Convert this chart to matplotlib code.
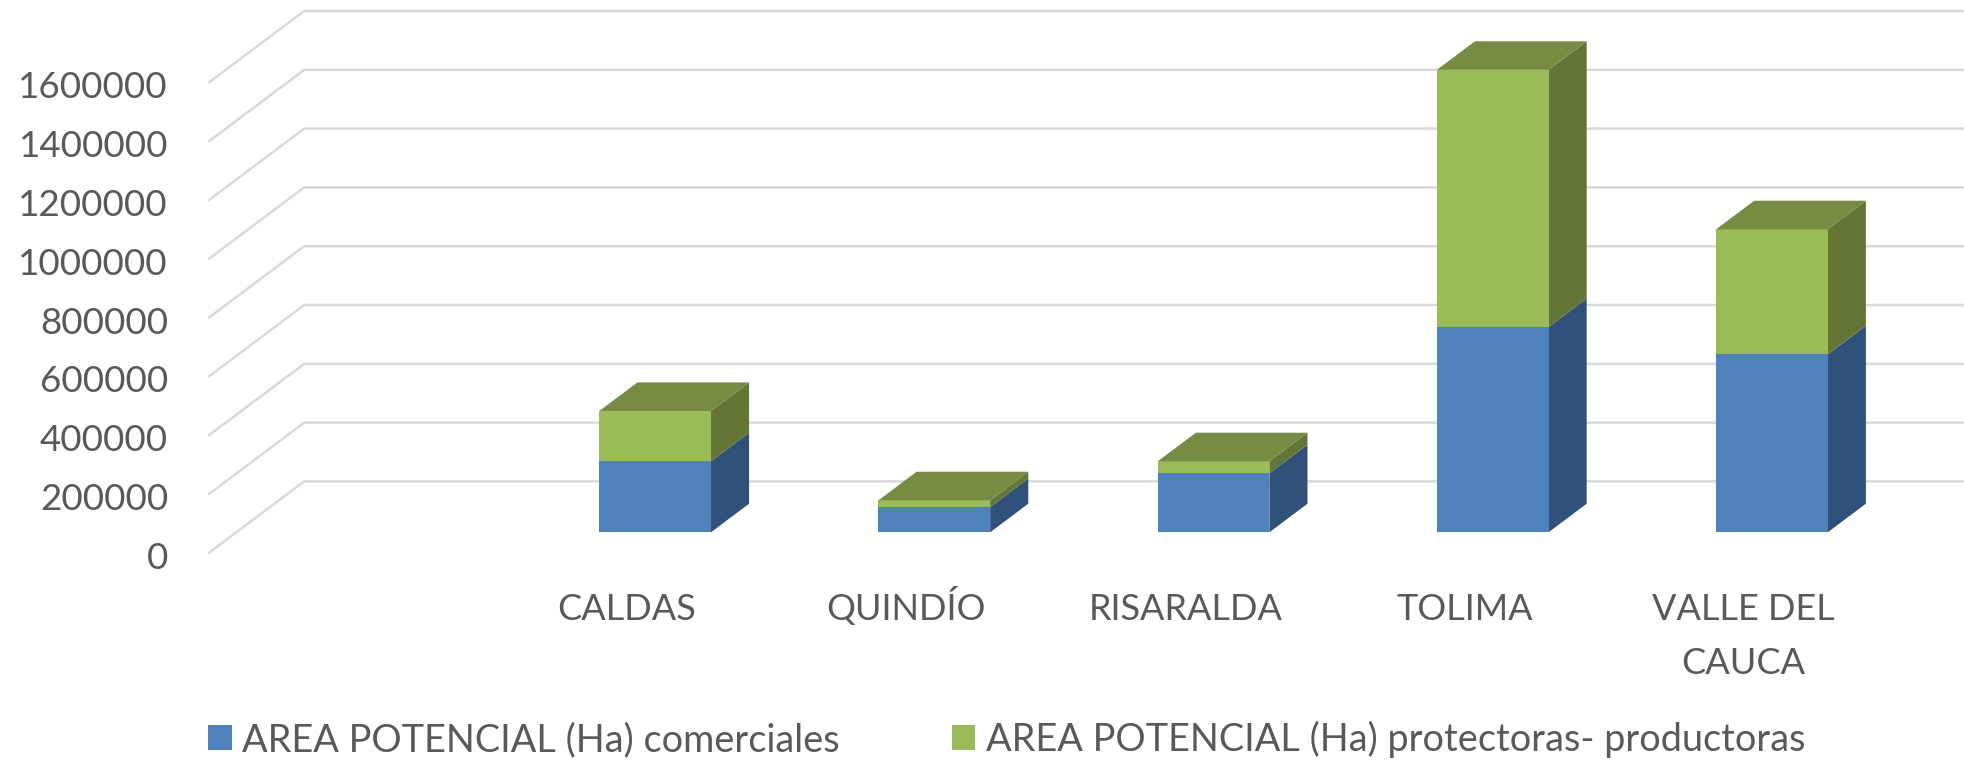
import matplotlib
matplotlib.use("Agg")
import matplotlib.pyplot as plt
from matplotlib.patches import Patch, Polygon

plt.rcParams["font.family"] = ["Lato", "DejaVu Sans"]

categories = ["CALDAS", "QUINDÍO", "RISARALDA", "TOLIMA", "VALLE DEL\nCAUCA"]
comerciales = [241500, 86000, 200700, 698000, 605400]
protectoras = [171100, 22800, 40800, 875000, 425200]
yticks = [0, 200000, 400000, 600000, 800000, 1000000, 1200000, 1400000, 1600000]
series_names = ["AREA POTENCIAL (Ha) comerciales", "AREA POTENCIAL (Ha) protectoras- productoras"]

TEXT = "#595959"
GRID = "#d9d9d9"
BLUE = ("#4f81bd", "#30527a")
GREEN = ("#9bbb59", "#647635", "#768c43")

W, H = 1964, 763
# pixels per category and value units per pixel on the front of the floor
PX_CAT = 279.2
VAL_PX = 200000 / 58.8
X0 = 627.0   # pixel x of first category
Y0 = 553.4   # pixel y (from top) of value 0
DX = 96 / PX_CAT     # full depth of the 3d box in data units
DY = 72 * VAL_PX
BAR_D0, BAR_D1 = 0.293, 0.69
HALF = 0.2

fig = plt.figure(figsize=(W / 100, H / 100), dpi=100)
ax = fig.add_axes([0, 0, 1, 1])
ax.set_xlim(-X0 / PX_CAT, (W - X0) / PX_CAT)
ax.set_ylim(-(H - Y0) * VAL_PX, Y0 * VAL_PX)
ax.axis("off")


def pt(x, v, d):
    return (x + d * DX, v + d * DY)


# walls
for v in yticks:
    p0 = pt(-1.5, v, 0)
    p1 = pt(-1.5, v, 1)
    p2 = pt(4.5, v, 1)
    ax.plot([p0[0], p1[0], p2[0]], [p0[1], p1[1], p2[1]], color=GRID, lw=1.8, zorder=1,
            solid_joinstyle="miter", solid_capstyle="butt")
    ax.text((168 - X0) / PX_CAT, v - 15.4 * VAL_PX, str(v), ha="right", va="baseline",
            fontsize=26.5, color=TEXT)


def box(i, v0, v1, front, side, top=None):
    l, r = i - HALF, i + HALF
    ax.add_patch(Polygon([pt(r, v0, BAR_D0), pt(r, v0, BAR_D1), pt(r, v1, BAR_D1), pt(r, v1, BAR_D0)],
                         fc=side, ec="none", zorder=3))
    ax.add_patch(Polygon([pt(l, v0, BAR_D0), pt(r, v0, BAR_D0), pt(r, v1, BAR_D0), pt(l, v1, BAR_D0)],
                         fc=front, ec="none", zorder=3))
    if top:
        ax.add_patch(Polygon([pt(l, v1, BAR_D0), pt(r, v1, BAR_D0), pt(r, v1, BAR_D1), pt(l, v1, BAR_D1)],
                             fc=top, ec="none", zorder=3))


for i, name in enumerate(categories):
    a = comerciales[i]
    b = a + protectoras[i]
    box(i, 0, a, BLUE[0], BLUE[1])
    box(i, a, b, GREEN[0], GREEN[1], GREEN[2])
    lines = name.split("\n")
    for k, line in enumerate(lines):
        ax.text(i, (Y0 - 620 - 54 * k) * VAL_PX, line, ha="center", va="baseline",
                fontsize=26, color=TEXT)

handles = [Patch(fc=BLUE[0], label=series_names[0]), Patch(fc=GREEN[0], label=series_names[1])]
fig.legend(handles=handles, ncol=2, loc="lower left", bbox_to_anchor=(208 / W, (H - 758) / H),
           frameon=False, fontsize=27.3, labelcolor=TEXT, borderpad=0, borderaxespad=0,
           handlelength=0.63, handleheight=0.63, handletextpad=0.27, columnspacing=2.95)

fig.savefig("out.png", dpi=100)
